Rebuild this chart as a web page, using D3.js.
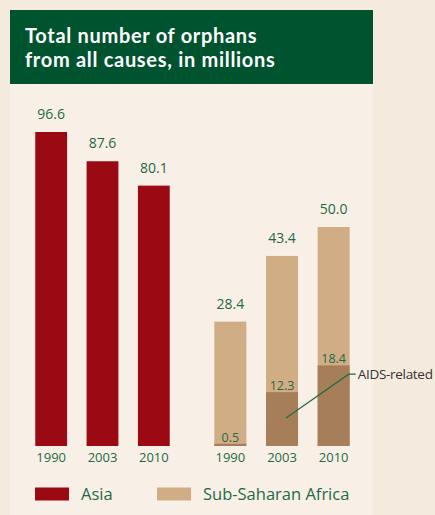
<!DOCTYPE html>
<html>
<head>
<meta charset="utf-8">
<script src="https://cdn.jsdelivr.net/npm/d3@7"></script>
<style>
  body { margin: 0; background: #f4eadd; }
  svg { display: block; }
</style>
</head>
<body>
<div id="chart"></div>
<script>
// data
var years = ["1990", "2003", "2010"];
var asiaTotal = [96.6, 87.6, 80.1];
var africaTotal = [28.4, 43.4, 50.0];
var africaAids = [0.5, 12.3, 18.4];
var legendLabels = ["Asia", "Sub-Saharan Africa"];
var titleLines = ["Total number of orphans", "from all causes, in millions"];

var svgWidth = 435;
var svgHeight = 515;
var baseY = 446;

var colors = {
  asia: "#9b0a12",
  africa: "#d1ad86",
  aids: "#a67f5a",
  label: "#1f6a45",
  header: "#00532f",
  panel: "#f8f0e6",
  outer: "#f4eadd"
};

var svg = d3.select("#chart")
  .append("svg")
  .attr("width", svgWidth)
  .attr("height", svgHeight);

svg.append("rect")
  .attr("width", svgWidth).attr("height", svgHeight)
  .attr("fill", colors.outer);

// light panel
svg.append("rect")
  .attr("x", 10).attr("y", 10)
  .attr("width", 363).attr("height", svgHeight - 10)
  .attr("fill", colors.panel);

// header box
svg.append("rect")
  .attr("x", 10).attr("y", 10)
  .attr("width", 363).attr("height", 74)
  .attr("fill", colors.header);

// title, one text per line
svg.selectAll(".title")
  .data(titleLines)
  .enter()
  .append("text")
  .attr("class", "title")
  .attr("x", 25)
  .attr("y", (d, i) => 43 + i * 24)
  .attr("font-family", "Lato")
  .attr("font-weight", "bold")
  .attr("font-size", "20px")
  .attr("letter-spacing", "0.7px")
  .attr("fill", "#fff")
  .text(d => d);

// x scales, one per region
var xAsia = d3.scaleBand().domain(years).range([25, 180]).paddingInner(0.38).paddingOuter(0.2);
var xAfrica = d3.scaleBand().domain(years).range([204, 360]).paddingInner(0.38).paddingOuter(0.2);

// the two groups are drawn at different scales in the original
var yAsia = d3.scaleLinear().domain([0, 96.6]).range([baseY, 132]);
var yAfrica = d3.scaleLinear().domain([0, 50]).range([baseY, 227]);

var asiaData = years.map((y, i) => ({ year: y, total: asiaTotal[i] }));
var africaData = years.map((y, i) => ({ year: y, total: africaTotal[i], aids: africaAids[i] }));

// Asia bars
svg.selectAll(".asia")
  .data(asiaData)
  .enter()
  .append("rect")
  .attr("class", "asia")
  .attr("x", d => xAsia(d.year))
  .attr("y", d => yAsia(d.total))
  .attr("width", xAsia.bandwidth())
  .attr("height", d => baseY - yAsia(d.total))
  .attr("fill", colors.asia);

svg.selectAll(".asiaLabel")
  .data(asiaData)
  .enter()
  .append("text")
  .attr("class", "asiaLabel")
  .attr("x", d => xAsia(d.year) + xAsia.bandwidth() / 2)
  .attr("y", d => yAsia(d.total) - 13)
  .attr("text-anchor", "middle")
  .attr("font-family", "Open Sans")
  .attr("font-size", "14px")
  .attr("fill", colors.label)
  .text(d => d.total.toFixed(1));

// Africa total bars
svg.selectAll(".africa")
  .data(africaData)
  .enter()
  .append("rect")
  .attr("class", "africa")
  .attr("x", d => xAfrica(d.year))
  .attr("y", d => yAfrica(d.total))
  .attr("width", xAfrica.bandwidth())
  .attr("height", d => baseY - yAfrica(d.total))
  .attr("fill", colors.africa);

// AIDS-related part
svg.selectAll(".aids")
  .data(africaData)
  .enter()
  .append("rect")
  .attr("class", "aids")
  .attr("x", d => xAfrica(d.year))
  .attr("y", d => yAfrica(d.aids))
  .attr("width", xAfrica.bandwidth())
  .attr("height", d => baseY - yAfrica(d.aids))
  .attr("fill", colors.aids);

svg.selectAll(".africaLabel")
  .data(africaData)
  .enter()
  .append("text")
  .attr("class", "africaLabel")
  .attr("x", d => xAfrica(d.year) + xAfrica.bandwidth() / 2)
  .attr("y", d => yAfrica(d.total) - 13)
  .attr("text-anchor", "middle")
  .attr("font-family", "Open Sans")
  .attr("font-size", "14px")
  .attr("fill", colors.label)
  .text(d => d.total.toFixed(1));

svg.selectAll(".aidsLabel")
  .data(africaData)
  .enter()
  .append("text")
  .attr("class", "aidsLabel")
  .attr("x", d => xAfrica(d.year) + xAfrica.bandwidth() / 2)
  .attr("y", d => yAfrica(d.aids) - 2)
  .attr("text-anchor", "middle")
  .attr("font-family", "Open Sans")
  .attr("font-size", "12.5px")
  .attr("fill", colors.label)
  .text(d => d.aids.toFixed(1));

// year axes
[xAsia, xAfrica].forEach(function(xs) {
  var ax = svg.append("g")
    .attr("transform", `translate(0, ${baseY + 3})`)
    .call(d3.axisBottom(xs).tickSize(0).tickPadding(4));
  ax.select(".domain").remove();
  ax.selectAll("text")
    .attr("font-family", "Open Sans")
    .attr("font-size", "13px")
    .attr("fill", colors.label);
});

// AIDS-related callout
var x2003 = xAfrica("2003") + xAfrica.bandwidth() / 2;
var x2010 = xAfrica("2010") + xAfrica.bandwidth() * 0.97;
svg.append("polyline")
  .attr("points", [[x2003 + 4, yAfrica(6.4)], [x2010, yAfrica(16.4)], [x2010 + 7, yAfrica(16.4)]].join(" "))
  .attr("fill", "none")
  .attr("stroke", colors.label)
  .attr("stroke-width", 1.2);

svg.append("text")
  .attr("x", x2010 + 9)
  .attr("y", yAfrica(16.4) + 5)
  .attr("font-family", "Open Sans")
  .attr("font-size", "13.5px")
  .attr("letter-spacing", "-0.3px")
  .attr("fill", "#333")
  .text("AIDS-related");

// legend
var legend = svg.append("g");
[colors.asia, colors.africa].forEach(function(c, i) {
  var lx = i === 0 ? 35 : 157;
  legend.append("rect")
    .attr("x", lx).attr("y", 487.5)
    .attr("width", 34).attr("height", 13)
    .attr("fill", c);
  legend.append("text")
    .attr("x", lx + 46)
    .attr("y", 500)
    .attr("font-family", "Open Sans")
    .attr("font-size", "16.5px")
    .attr("fill", colors.label)
    .text(legendLabels[i]);
});
</script>
</body>
</html>
